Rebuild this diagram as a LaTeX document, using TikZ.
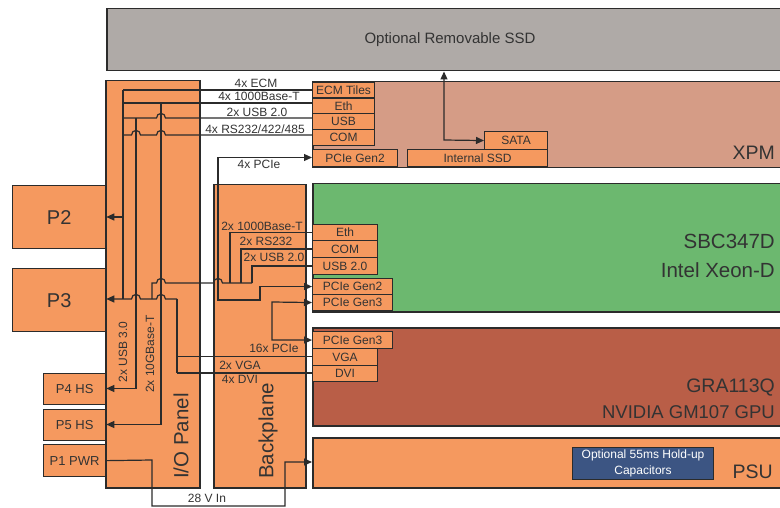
\documentclass[tikz,border=0pt]{standalone}
\usepackage{fontspec}
\setmainfont{Liberation Sans}
\usetikzlibrary{arrows.meta}
\definecolor{cgray}{HTML}{AFAAA7}
\definecolor{cxpm}{HTML}{D59C86}
\definecolor{corange}{HTML}{F5995F}
\definecolor{cgreen}{HTML}{6CB86F}
\definecolor{cgra}{HTML}{B95E47}
\definecolor{cblue}{HTML}{3C5583}
\definecolor{cline}{HTML}{2B2B2B}
\definecolor{ctext}{HTML}{333333}
\newcommand\myfs[1]{\fontsize{#1}{#1}\selectfont}
\begin{document}
\begin{tikzpicture}[x=1pt,y=-1pt,
  bigbox/.style={draw=cline,line width=1.5pt,inner sep=0pt,anchor=north west},
  pbox/.style={draw=cline,fill=corange,line width=1.3pt,inner sep=0pt,anchor=north west,text=ctext},
  tile/.style={draw=cline,fill=corange,line width=1.1pt,inner sep=0pt,anchor=north west,text=ctext,font=\myfs{12}},
  lbl/.style={inner sep=0pt,text=ctext,font=\myfs{12},anchor=base},
  rlbl/.style={inner sep=0pt,text=ctext,font=\myfs{12},rotate=90},
  biglbl/.style={inner sep=0pt,text=ctext,font=\myfs{19.5},anchor=base east},
  wire/.style={draw=cline,line width=1.2pt},
  tip/.style={-{Triangle[length=8pt,width=7pt]}},
  tips/.style={{Triangle[length=8pt,width=7pt]}-{Triangle[length=8pt,width=7pt]}}
]
\useasboundingbox (0,0) rectangle (780,508);
\clip (0,0) rectangle (780,508);

% big boxes
\node[bigbox,fill=cgray,minimum width=676pt,minimum height=62pt] (ssd) at (106,8) {};
\node[inner sep=0pt,text=ctext,font=\myfs{15}] (ssdt) at (450,40) {Optional Removable SSD};
\node[bigbox,fill=cxpm,minimum width=470pt,minimum height=86pt] (xpm) at (312,81) {};
\node[bigbox,fill=corange,minimum width=94pt,minimum height=407pt] (io) at (105,80) {};
\node[bigbox,fill=corange,minimum width=92pt,minimum height=303pt] (bp) at (213,184) {};
\node[bigbox,fill=cgreen,minimum width=470pt,minimum height=128pt] (sbc) at (312,183) {};
\node[bigbox,fill=cgra,minimum width=470pt,minimum height=98pt] (gra) at (312,327) {};
\node[bigbox,fill=corange,minimum width=470pt,minimum height=50pt] (psu) at (312,437) {};

% connectors boxes on the left
\node[pbox,minimum width=93pt,minimum height=63pt,font=\myfs{20}] (p2) at (12,185) {P2};
\node[pbox,minimum width=93pt,minimum height=63pt,font=\myfs{20}] (p3) at (12,268) {P3};
\node[pbox,minimum width=62pt,minimum height=31pt,font=\myfs{13}] (p4) at (43,373) {P4 HS};
\node[pbox,minimum width=62pt,minimum height=31pt,font=\myfs{13}] (p5) at (43,409) {P5 HS};
\node[pbox,minimum width=62pt,minimum height=32pt,font=\myfs{13}] (p1) at (43,444) {P1 PWR};

% big labels
\node[biglbl] (xpmL) at (775,160) {XPM};
\node[biglbl,font=\myfs{20.5}] (sbcL1) at (775,249) {SBC347D};
\node[biglbl,font=\myfs{20.5}] (sbcL2) at (775,277) {Intel Xeon-D};
\node[biglbl] (graL1) at (775,392) {GRA113Q};
\node[biglbl,font=\myfs{18.5}] (graL2) at (775,418) {NVIDIA GM107 GPU};
\node[biglbl] (psuL) at (773,478) {PSU};
\node[inner sep=0pt,text=ctext,font=\myfs{20.5},rotate=90] (iol) at (181,436) {I/O Panel};
\node[inner sep=0pt,text=ctext,font=\myfs{20.5},rotate=90] (bpl) at (268,431) {Backplane};

% junction coordinates
\coordinate (a0) at (123,90);
\coordinate (a1) at (123,103);
\coordinate (a2) at (123,118);
\coordinate (a3) at (123,135);
\coordinate (a4) at (123,217);
\coordinate (a5) at (123,299);
\coordinate (b0) at (136,118);
\coordinate (b1) at (136,388.5);
\coordinate (c0) at (161,103);
\coordinate (c1) at (161,424.5);
\coordinate (d0) at (177,299);
\coordinate (d1) at (177,356.5);
\coordinate (d2) at (177,373);
\coordinate (e0) at (152,299);
\coordinate (e1) at (152,283);
\coordinate (f0) at (218,157.5);
\coordinate (f1) at (218,300);
\coordinate (f2) at (260,300);
\coordinate (s0) at (230,283);
\coordinate (s1) at (241,283);
\coordinate (s2) at (252,283);
\coordinate (g0) at (272,302);
\coordinate (h0) at (444,140);
\coordinate (w0) at (152,460);
\coordinate (w1) at (152,506);
\coordinate (w2) at (285,506);
\coordinate (w3) at (285,462);

% tiles XPM
\node[tile,minimum width=62pt,minimum height=15.5pt] (ecmT) at (312,82) {ECM Tiles};
\node[tile,minimum width=62pt,minimum height=15.5pt] (ethX) at (312,97.5) {Eth};
\node[tile,minimum width=62pt,minimum height=16pt] (usbX) at (312,113) {USB};
\node[tile,minimum width=62pt,minimum height=16pt] (comX) at (312,129) {COM};
\node[tile,minimum width=85pt,minimum height=17pt] (pcieX) at (312,149) {PCIe Gen2};
\node[tile,minimum width=140pt,minimum height=17pt] (issd) at (407,149) {Internal SSD};
\node[tile,minimum width=63pt,minimum height=18pt] (sata) at (484,131) {SATA};
% tiles SBC
\node[tile,minimum width=65pt,minimum height=16pt] (ethS) at (312,224) {Eth};
\node[tile,minimum width=65pt,minimum height=17pt] (comS) at (312,240) {COM};
\node[tile,minimum width=65pt,minimum height=17pt] (usbS) at (312,257) {USB 2.0};
\node[tile,minimum width=80pt,minimum height=16pt] (g2S) at (312,278) {PCIe Gen2};
\node[tile,minimum width=80pt,minimum height=16pt] (g3S) at (312,294) {PCIe Gen3};
% tiles GRA
\node[tile,minimum width=80pt,minimum height=17pt] (g3G) at (312,331) {PCIe Gen3};
\node[tile,minimum width=65pt,minimum height=17pt] (vgaG) at (312,348) {VGA};
\node[tile,minimum width=65pt,minimum height=16pt] (dviG) at (312,365) {DVI};
% capacitors
\node[draw=cline,fill=cblue,line width=1.1pt,minimum width=141pt,minimum height=32pt,anchor=north west,
      text=white,font=\fontsize{12}{15.5}\selectfont,align=center,inner sep=0pt] (cap) at (572,447)
      {Optional 55ms Hold-up\\Capacitors};

% wires from I/O panel to XPM
\draw[wire] (a0) -- (a5);
\draw[wire] (a0) -- (a0 -| ecmT.west);
\draw[wire] (a1) -- (a1 -| ethX.west);
\draw[wire] (a2) -- (156.5,118) .. controls (156.5,112) and (165.5,112) .. (165.5,118) -- (a2 -| usbX.west);
\draw[wire] (a3) -- (131.5,135) .. controls (131.5,129) and (140.5,129) .. (140.5,135)
  -- (156.5,135) .. controls (156.5,129) and (165.5,129) .. (165.5,135) -- (a3 -| comX.west);
% buses to P connectors
\draw[wire,tip] (a4) -- (a4 -| p2.east);
\draw[wire,tip] (b0) -- (b1) -- (b1 -| p4.east);
\draw[wire,tip] (c0) -- (c1) -- (c1 -| p5.east);
\draw[wire,tip] (d0) -- (165.5,299) .. controls (165.5,293) and (156.5,293) .. (156.5,299)
  -- (140.5,299) .. controls (140.5,293) and (131.5,293) .. (131.5,299) -- (a5 -| p3.east);
\draw[wire] (d0) -- (d2);
\draw[wire] (d1) -- (d1 -| vgaG.west);
\draw[wire] (d2) -- (d2 -| dviG.west);
% SBC I/O
\draw[wire] (e0) -- (e1) -- (156.5,283) .. controls (156.5,277) and (165.5,277) .. (165.5,283)
  -- (213.5,283) .. controls (213.5,277) and (222.5,277) .. (222.5,283) -- (s2);
\draw[wire] (s0) |- (ethS.west);
\draw[wire] (s1) |- (comS.west);
\draw[wire] (s2) |- (usbS.west);
% PCIe
\draw[wire,tips] (f0 -| pcieX.west) -- (f0) -- (f1) -- (f2) |- (g2S.west);
\draw[wire,tips] (g3S.west) -- (g0) |- (g3G.west);
% SATA
\draw[wire,tips] (ssd.south -| h0) -- (h0) -- (sata.west);
% power
\draw[wire,tip] (p1.east) -- (w0) -- (w1) -- (w2) -- (w3) -- (w3 -| psu.west);

% line labels
\node[lbl] (l1) at (256,87.5) {4x ECM};
\node[lbl] (l2) at (259,101) {4x 1000Base-T};
\node[lbl] (l3) at (257,116.3) {2x USB 2.0};
\node[lbl] (l4) at (255,133.3) {4x RS232/422/485};
\node[lbl] (l5) at (259,169) {4x PCIe};
\node[lbl] (l6) at (262,230.5) {2x 1000Base-T};
\node[lbl] (l7) at (266,245.5) {2x RS232};
\node[lbl] (l8) at (274,261.8) {2x USB 2.0};
\node[lbl] (l9) at (274,352.5) {16x PCIe};
\node[lbl] (l10) at (240,369) {2x VGA};
\node[lbl] (l11) at (240,383) {4x DVI};
\node[lbl] (l12) at (207,502.5) {28 V In};
\node[rlbl] (l13) at (123,352) {2x USB 3.0};
\node[rlbl] (l14) at (150,354) {2x 10GBase-T};
\end{tikzpicture}
\end{document}
